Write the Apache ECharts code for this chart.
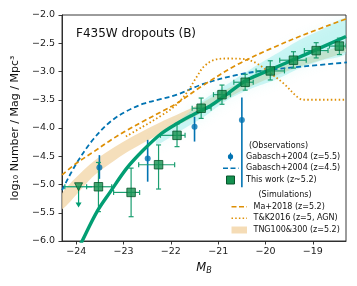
<!DOCTYPE html>
<html><head><meta charset="utf-8">
<script src="https://cdn.jsdelivr.net/npm/echarts@6/dist/echarts.min.js"></script>
<style>html,body{margin:0;padding:0;background:#fff}#c{width:357px;height:286px}</style>
</head><body><div id="c"></div>
<script>
// ---- data ----
const xTicks = [-24, -23, -22, -21, -20, -19];
const yTicks = [-6.0, -5.5, -5.0, -4.5, -4.0, -3.5, -3.0, -2.5, -2.0];

// This work (z~5.2)
const thisM   = [-23.53, -22.84, -22.26, -21.87, -21.36, -20.92, -20.43, -19.90, -19.41, -18.93, -18.44];
const thisPhi = [-5.04, -5.14, -4.65, -4.13, -3.65, -3.41, -3.19, -2.99, -2.80, -2.63, -2.55];
const thisLo  = [-5.48, -5.57, -5.08, -4.33, -3.83, -3.58, -3.33, -3.15, -2.94, -2.76, -2.70];
const thisHi  = [-4.61, -4.71, -4.30, -3.93, -3.47, -3.24, -3.05, -2.81, -2.65, -2.49, -2.41];
const thisXlo = [-23.78, -23.21, -22.68, -22.22, -21.55, -21.10, -20.67, -20.20, -19.70, -19.18, -18.65];
const thisXhi = [-23.25, -22.66, -21.92, -21.70, -21.15, -20.74, -20.26, -19.60, -19.14, -18.68, -18.30];
// upper limit
const limM = [-23.95], limPhi = [-5.04], limXlo = [-24.24], limXhi = [-23.66], limArrow = [-5.39];

// This work fit
const fitM   = [-23.95, -23.88, -23.56, -23.28, -22.93, -22.58, -22.22, -21.87, -21.52, -21.17, -20.80, -20.39, -19.90, -19.19, -18.30];
const fitPhi = [-6.13, -6.01, -5.48, -5.13, -4.71, -4.39, -4.11, -3.92, -3.76, -3.61, -3.39, -3.15, -2.97, -2.71, -2.38];

// Gabasch+2004 z=5.5
const gab55M   = [-23.51, -22.49, -21.50, -20.50];
const gab55Phi = [-4.70, -4.54, -3.98, -3.86];
const gab55Lo  = [-4.90, -4.95, -4.24, -5.05];
const gab55Hi  = [-4.48, -4.21, -3.80, -3.46];

// Gabasch+2004 z=4.5
const gab45M   = [-24.30, -23.99, -23.63, -23.28, -22.93, -22.58, -22.22, -21.87, -21.31, -20.60, -19.90, -19.19, -18.28];
const gab45Phi = [-5.10, -4.62, -4.19, -3.89, -3.70, -3.57, -3.49, -3.41, -3.22, -3.06, -2.97, -2.91, -2.84];

// Ma+2018
const maM   = [-24.30, -23.99, -23.63, -23.28, -22.93, -22.58, -22.22, -21.87, -21.31, -20.60, -19.90, -19.19, -18.30];
const maPhi = [-4.83, -4.62, -4.42, -4.22, -4.04, -3.88, -3.72, -3.56, -3.24, -2.88, -2.60, -2.35, -2.07];

// T&K2016 (AGN)
const tkM   = [-22.95, -22.60, -22.20, -21.90, -21.66, -21.45, -21.31, -21.10, -20.81, -20.45, -20.18, -19.90, -19.62, -19.33, -19.20, -18.30];
const tkPhi = [-4.15, -3.98, -3.78, -3.60, -3.37, -3.09, -2.92, -2.80, -2.77, -2.78, -2.86, -3.03, -3.21, -3.45, -3.50, -3.50];

// TNG100&300 band
const tngM  = [-24.30, -23.63, -22.93, -22.22, -21.52, -20.60, -19.90, -19.19, -18.30];
const tngLo = [-5.44, -4.85, -4.43, -4.10, -3.81, -3.38, -3.11, -2.89, -2.65];
const tngHi = [-5.16, -4.59, -4.21, -3.90, -3.63, -3.22, -2.97, -2.77, -2.53];

// posterior cloud (this work)
const cloudM  = [-22.30, -21.80, -21.30, -20.80, -20.30, -19.80, -19.30, -18.80, -18.30];
const cloudLo = [-4.30, -4.05, -3.80, -3.50, -3.30, -3.15, -2.95, -2.80, -2.68];
const cloudHi = [-4.15, -3.85, -3.50, -3.22, -2.95, -2.70, -2.45, -2.25, -2.06];

// ---- chart ----
const FONT = 'DejaVu Sans';
const GREEN = '#029e73', BLUE = '#0173b2', ORANGE = '#de8f05';
const minus = v => (v < 0 ? '\u2212' : '') + Math.abs(v);
const zip = (a, b) => a.map((v, i) => [v, b[i]]);

function bandSeries(M, lo, hi, fill, blur, z) {
  return {
    type: 'custom', clip: true, z: z, silent: true,
    data: [[M[0], lo[0]]],
    renderItem: (p, api) => {
      const pts = M.map((m, i) => api.coord([m, hi[i]]))
        .concat(M.map((m, i) => api.coord([m, lo[i]])).reverse());
      return { type: 'polygon', shape: { points: pts, smooth: 0.25 },
        style: { fill: fill, shadowBlur: blur, shadowColor: fill } };
    }
  };
}

function errSeries(data, color, lw, cap, withX, z) {
  return {
    type: 'custom', clip: true, z: z, silent: true,
    data: data,
    renderItem: (p, api) => {
      const x = api.value(0), y = api.value(1);
      const ch = [];
      const line = (a, b) => ch.push({ type: 'line', shape: { x1: a[0], y1: a[1], x2: b[0], y2: b[1] },
        style: { stroke: color, lineWidth: lw } });
      const yl = api.coord([x, api.value(2)]), yh = api.coord([x, api.value(3)]);
      line(yl, yh);
      if (cap) { line([yl[0] - cap, yl[1]], [yl[0] + cap, yl[1]]); line([yh[0] - cap, yh[1]], [yh[0] + cap, yh[1]]); }
      if (withX) {
        const xl = api.coord([api.value(4), y]), xh = api.coord([api.value(5), y]);
        line(xl, xh);
        if (cap) { line([xl[0], xl[1] - cap], [xl[0], xl[1] + cap]); line([xh[0], xh[1] - cap], [xh[0], xh[1] + cap]); }
      }
      return { type: 'group', children: ch };
    }
  };
}

const thisErr = thisM.map((m, i) => [m, thisPhi[i], thisLo[i], thisHi[i], thisXlo[i], thisXhi[i]]);
const gabErr = gab55M.map((m, i) => [m, gab55Phi[i], gab55Lo[i], gab55Hi[i]]);

const limSeries = {
  type: 'custom', clip: true, z: 8, silent: true,
  data: limM.map((m, i) => [m, limPhi[i], limArrow[i], limXlo[i], limXhi[i]]),
  renderItem: (p, api) => {
    const x = api.value(0), y = api.value(1);
    const c = api.coord([x, y]), a = api.coord([x, api.value(2)]);
    const xl = api.coord([api.value(3), y]), xh = api.coord([api.value(4), y]);
    const st = { stroke: GREEN, lineWidth: 1.2 };
    return { type: 'group', children: [
      { type: 'line', shape: { x1: xl[0], y1: xl[1], x2: xh[0], y2: xh[1] }, style: st },
      { type: 'line', shape: { x1: xl[0], y1: xl[1] - 2.5, x2: xl[0], y2: xl[1] + 2.5 }, style: st },
      { type: 'line', shape: { x1: c[0], y1: c[1], x2: a[0], y2: a[1] - 1 }, style: st },
      { type: 'polygon', shape: { points: [[a[0] - 3, a[1] - 4], [a[0] + 3, a[1] - 4], [a[0], a[1] + 1]] }, style: { fill: GREEN } }
    ] };
  }
};

const lineS = (M, P, color, width, type, z) => ({
  type: 'line', data: zip(M, P), smooth: 0.35, showSymbol: false, clip: true, z: z, silent: true,
  lineStyle: { color: color, width: width, type: type, cap: 'butt' }
});

// legend graphic
const LX = 246, LY = [145.7, 156.7, 168.3, 180, 195, 206.7, 218.3, 230];
const txt = (x, y, s, align) => ({ type: 'text', x: x, y: y, silent: true,
  style: { text: s, font: '8px "DejaVu Sans"', fill: '#111', textAlign: align || 'left', textVerticalAlign: 'middle' } });
const legendG = [
  txt(278.5, LY[0], '(Observations)', 'center'),
  { type: 'circle', shape: { cx: 230.5, cy: LY[1], r: 2.6 }, style: { fill: BLUE } },
  { type: 'line', shape: { x1: 230.5, y1: LY[1] - 4, x2: 230.5, y2: LY[1] + 4 }, style: { stroke: BLUE, lineWidth: 1.2 } },
  txt(LX, LY[1], 'Gabasch+2004 (z=5.5)'),
  { type: 'line', shape: { x1: 223, y1: LY[2], x2: 238.5, y2: LY[2] }, style: { stroke: BLUE, lineWidth: 1.6, lineDash: [5, 2.5] } },
  txt(LX, LY[2], 'Gabasch+2004 (z=4.5)'),
  { type: 'rect', shape: { x: 226.5, y: LY[3] - 4, width: 8, height: 8 }, style: { fill: '#14904f', stroke: '#07552b', lineWidth: 1 } },
  txt(LX, LY[3], 'This work (z~5.2)'),
  txt(285, LY[4], '(Simulations)', 'center'),
  { type: 'line', shape: { x1: 231.5, y1: LY[5], x2: 247, y2: LY[5] }, style: { stroke: ORANGE, lineWidth: 1.5, lineDash: [5, 2.5] } },
  txt(253.5, LY[5], 'Ma+2018 (z=5.2)'),
  { type: 'line', shape: { x1: 231.5, y1: LY[6], x2: 247, y2: LY[6] }, style: { stroke: ORANGE, lineWidth: 1.6, lineDash: [1.5, 2.2] } },
  txt(253.5, LY[6], 'T&K2016 (z=5, AGN)'),
  { type: 'rect', shape: { x: 231.5, y: LY[7] - 3.5, width: 15.5, height: 7 }, style: { fill: '#f5dcb6' } },
  txt(253.5, LY[7], 'TNG100&300 (z=5.2)'),
  { type: 'text', x: 76, y: 33.5, silent: true,
    style: { text: 'F435W dropouts (B)', font: '12px "DejaVu Sans"', fill: '#111', textVerticalAlign: 'middle' } }
];

const chart = echarts.init(document.getElementById('c'), null, { renderer: 'canvas' });
chart.setOption({
  animation: false,
  backgroundColor: '#fff',
  textStyle: { fontFamily: FONT },
  grid: { left: 62, right: 11, top: 15, bottom: 45, show: true, borderColor: '#222', borderWidth: 0.9, containLabel: false },
  xAxis: {
    type: 'value', min: -24.3, max: -18.3,
    axisLine: { show: true, lineStyle: { color: '#222', width: 0.9 } },
    splitLine: { show: false },
    axisTick: { show: true, length: 3.5, lineStyle: { color: '#222', width: 0.9 }, customValues: xTicks },
    axisLabel: { color: '#222', fontSize: 9.5, fontFamily: FONT, margin: 6, customValues: xTicks, formatter: v => minus(v) },
    name: '{i|M}{s|B}', nameLocation: 'middle', nameGap: 21,
    nameTextStyle: { rich: {
      i: { fontFamily: FONT, fontStyle: 'italic', fontSize: 11.5, color: '#111' },
      s: { fontFamily: FONT, fontStyle: 'italic', fontSize: 8, color: '#111', verticalAlign: 'bottom', padding: [5, 0, 0, 0] } } }
  },
  yAxis: {
    type: 'value', min: -6, max: -2, interval: 0.5,
    axisLine: { show: true, lineStyle: { color: '#222', width: 0.9 } },
    splitLine: { show: false },
    axisTick: { show: true, length: 3.5, lineStyle: { color: '#222', width: 0.9 } },
    axisLabel: { color: '#222', fontSize: 9.5, fontFamily: FONT, margin: 7, formatter: v => (v < 0 ? '\u2212' : '') + Math.abs(v).toFixed(1) },
    name: 'log\u2081\u2080 Number / Mag / Mpc\u00b3', nameLocation: 'middle', nameGap: 37,
    nameTextStyle: { fontFamily: FONT, fontSize: 11, color: '#111' }
  },
  graphic: legendG,
  series: [
    bandSeries(tngM, tngLo, tngHi, 'rgba(243,215,170,0.8)', 0, 1),
    bandSeries(cloudM, cloudLo, cloudHi, 'rgba(130,232,228,0.38)', 12, 2),
    lineS(gab45M, gab45Phi, BLUE, 1.8, [5, 3], 3),
    lineS(maM, maPhi, ORANGE, 1.7, [5, 3], 3),
    lineS(tkM, tkPhi, ORANGE, 1.8, [1.5, 2.4], 3),
    errSeries(gabErr, BLUE, 1.6, 0, false, 4),
    errSeries(thisErr, '#1b9e70', 1.2, 2.5, true, 5),
    lineS(fitM, fitPhi, GREEN, 3.4, 'solid', 6),
    limSeries,
    { type: 'scatter', data: zip(gab55M, gab55Phi), symbol: 'circle', symbolSize: 6, z: 9, silent: true,
      itemStyle: { color: BLUE } },
    { type: 'scatter', data: zip(thisM, thisPhi), symbol: 'rect', symbolSize: 8.5, z: 10, silent: true,
      itemStyle: { color: '#14904f', borderColor: '#07552b', borderWidth: 1 } },
    { type: 'scatter', data: zip(limM, limPhi), symbol: 'triangle', symbolRotate: 180, symbolSize: 8, z: 10, silent: true,
      itemStyle: { color: '#14904f', borderColor: '#07552b', borderWidth: 1 } }
  ]
});
</script></body></html>
